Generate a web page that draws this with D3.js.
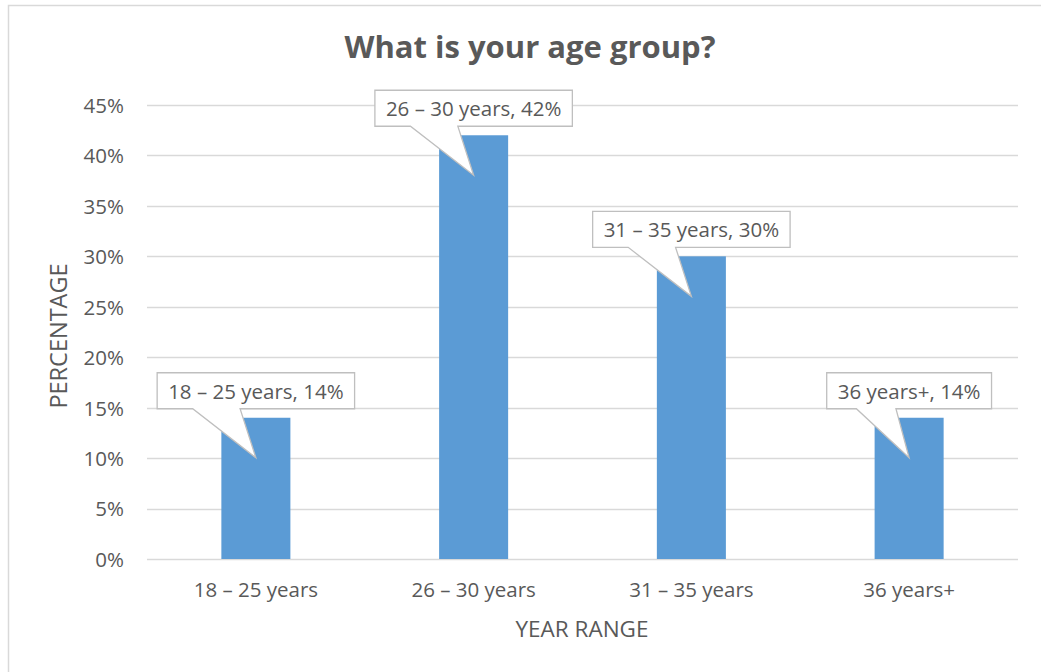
<!DOCTYPE html>
<html>
<head>
<meta charset="utf-8">
<script src="https://cdn.jsdelivr.net/npm/d3@7"></script>
<style>
  html, body { margin: 0; padding: 0; background: #ffffff; }
  svg { display: block; }
  text { font-family: "Open Sans", "Noto Sans", sans-serif; fill: #595959; }
</style>
</head>
<body>
<svg id="chart" width="1041" height="672"></svg>
<script>
// Survey responses: share of respondents in each age group
const categories = ["18 – 25 years", "26 – 30 years", "31 – 35 years", "36 years+"];
const shares = [0.14, 0.42, 0.30, 0.14];
const yTicks = [0, 0.05, 0.10, 0.15, 0.20, 0.25, 0.30, 0.35, 0.40, 0.45];

const chartTitle = "What is your age group?";
const xAxisTitle = "YEAR RANGE";
const yAxisTitle = "PERCENTAGE";

const W = 1041, H = 672;
const plot = { left: 147, right: 1018, top: 105, bottom: 559 };

const svg = d3.select("#chart");

// chart area frame
svg.append("rect")
  .attr("x", 8.5).attr("y", 5.5)
  .attr("width", W + 20).attr("height", H + 20)
  .attr("fill", "#ffffff")
  .attr("stroke", "#d9d9d9")
  .attr("stroke-width", 1.5);

const x = d3.scaleBand()
  .domain(categories)
  .range([plot.left, plot.right])
  .paddingInner(0.683)
  .paddingOuter(0.3415);

const y = d3.scaleLinear()
  .domain([0, 0.45])
  .range([plot.bottom, plot.top]);

const pct = d3.format(".0%");

// horizontal gridlines
svg.append("g")
  .selectAll("line")
  .data(yTicks)
  .join("line")
  .attr("x1", plot.left).attr("x2", plot.right)
  .attr("y1", d => Math.round(y(d)) + 0.5)
  .attr("y2", d => Math.round(y(d)) + 0.5)
  .attr("stroke", "#d9d9d9")
  .attr("stroke-width", 1.3);

// y axis tick labels
const yAxis = d3.axisLeft(y).tickValues(yTicks).tickFormat(pct).tickSize(0).tickPadding(0);
const yAxisG = svg.append("g")
  .attr("transform", `translate(${plot.left - 23},0)`)
  .call(yAxis);
yAxisG.select(".domain").remove();
yAxisG.selectAll("text")
  .attr("font-family", null)
  .style("font-size", "20.5px")
  .attr("dy", "0.36em");

// x axis category labels
const xAxis = d3.axisBottom(x).tickSize(0).tickPadding(0);
const xAxisG = svg.append("g")
  .attr("transform", `translate(0,${plot.bottom})`)
  .call(xAxis);
xAxisG.select(".domain").remove();
xAxisG.selectAll("text")
  .attr("font-family", null)
  .style("font-size", "20.5px")
  .attr("y", 38)
  .attr("dy", null);

// bars
svg.append("g")
  .selectAll("rect")
  .data(categories)
  .join("rect")
  .attr("x", d => x(d))
  .attr("width", x.bandwidth())
  .attr("y", (d, i) => y(shares[i]))
  .attr("height", (d, i) => y(0) - y(shares[i]))
  .attr("fill", "#5b9bd5");

// callout data labels: "category, value"
const callouts = svg.append("g");
categories.forEach((cat, i) => {
  const cx = x(cat) + x.bandwidth() / 2;
  const top = y(shares[i]);
  const g = callouts.append("g");
  const path = g.append("path");
  const label = g.append("text")
    .attr("x", cx)
    .attr("y", top - 19)
    .attr("text-anchor", "middle")
    .style("font-size", "20.5px")
    .text(`${cat}, ${pct(shares[i])}`);
  const tw = label.node().getComputedTextLength();
  const bw = tw + 22;
  const l = cx - bw / 2, r = cx + bw / 2;
  const t = top - 45, b = top - 9;
  const b1 = l + bw * 0.18, b2 = l + bw * 0.42;
  const tipX = cx, tipY = top + 40;
  path.attr("d", `M${l},${t}H${r}V${b}H${b2}L${tipX},${tipY}L${b1},${b}H${l}Z`)
    .attr("fill", "#ffffff")
    .attr("stroke", "#bfbfbf")
    .attr("stroke-width", 1.3)
    .attr("stroke-linejoin", "miter");
});

// titles
svg.append("text")
  .attr("x", 530).attr("y", 58)
  .attr("text-anchor", "middle")
  .style("font-size", "31px")
  .style("font-weight", "bold")
  .text(chartTitle);

svg.append("text")
  .attr("x", 582).attr("y", 637)
  .attr("text-anchor", "middle")
  .style("font-size", "22.5px")
  .text(xAxisTitle);

svg.append("text")
  .attr("transform", `translate(67,336) rotate(-90)`)
  .attr("text-anchor", "middle")
  .style("font-size", "23.5px")
  .text(yAxisTitle);
</script>
</body>
</html>
